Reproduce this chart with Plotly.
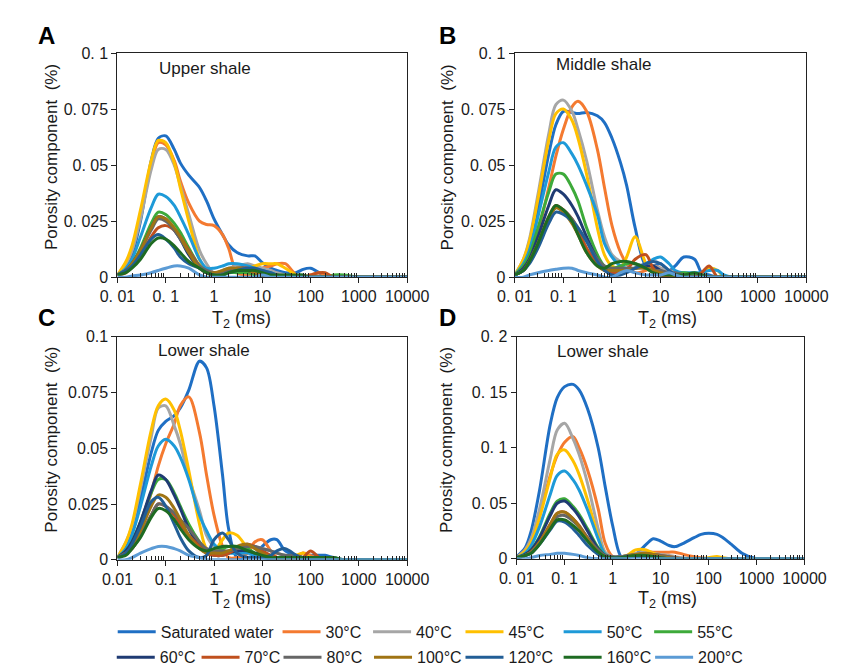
import plotly.graph_objects as go

# ---------------- data ----------------
T2 = [0.01, 0.015, 0.02, 0.03, 0.05, 0.07, 0.1, 0.15, 0.2, 0.3, 0.5, 0.7, 1, 1.5, 2, 3, 5, 7, 10, 15,
      20, 30, 50, 70, 100, 150, 200, 300, 500, 1000, 10000]

SERIES = ["Saturated water", "30°C", "40°C", "45°C", "50°C", "55°C",
          "60°C", "70°C", "80°C", "100°C", "120°C", "160°C", "200°C"]

X_TICKVALS = [0.01, 0.1, 1, 10, 100, 1000, 10000]
X_TICKTEXT_SPACED = ["0. 01", "0. 1", "1", "10", "100", "1000", "10000"]
X_TICKTEXT_PLAIN = ["0.01", "0.1", "1", "10", "100", "1000", "10000"]
Y_TICKVALS_01 = [0, 0.025, 0.05, 0.075, 0.1]
Y_TICKTEXT_01_SPACED = ["0", "0. 025", "0. 05", "0. 075", "0. 1"]
Y_TICKTEXT_01_PLAIN = ["0", "0.025", "0.05", "0.075", "0.1"]
Y_TICKVALS_02 = [0, 0.05, 0.1, 0.15, 0.2]
Y_TICKTEXT_02 = ["0", "0. 05", "0. 1", "0. 15", "0. 2"]

# Panel A - Upper shale
A_SAT = [0.001, 0.005, 0.010, 0.025, 0.052, 0.062, 0.063, 0.057, 0.051, 0.0455, 0.040, 0.034, 0.026, 0.019, 0.0145, 0.011, 0.0095, 0.0095, 0.0065, 0.004, 0.003, 0.002, 0.002, 0.0035, 0.004, 0.002, 0.0005, 0, 0, 0, 0]
A_30 = [0.001, 0.006, 0.012, 0.027, 0.050, 0.060, 0.059, 0.052, 0.043, 0.033, 0.025, 0.0235, 0.023, 0.019, 0.013, 0.002, 0.001, 0.002, 0.004, 0.005, 0.006, 0.006, 0.001, 0, 0.001, 0.002, 0.001, 0, 0, 0, 0]
A_40 = [0.001, 0.006, 0.012, 0.026, 0.048, 0.057, 0.057, 0.050, 0.041, 0.028, 0.012, 0.006, 0.002, 0.003, 0.004, 0.005, 0.006, 0.005, 0.004, 0.003, 0.002, 0.001, 0, 0, 0, 0, 0, 0, 0, 0, 0]
A_45 = [0.001, 0.007, 0.014, 0.030, 0.052, 0.061, 0.060, 0.051, 0.040, 0.025, 0.008, 0.002, 0.001, 0.002, 0.003, 0.004, 0.004, 0.005, 0.006, 0.006, 0.006, 0.004, 0.001, 0, 0, 0, 0, 0, 0, 0, 0]
A_50 = [0.001, 0.004, 0.008, 0.018, 0.031, 0.037, 0.036, 0.032, 0.027, 0.019, 0.008, 0.004, 0.004, 0.005, 0.006, 0.006, 0.005, 0.004, 0.003, 0.002, 0.001, 0, 0, 0, 0, 0, 0, 0, 0, 0, 0]
A_55 = [0.001, 0.003, 0.006, 0.013, 0.024, 0.029, 0.028, 0.024, 0.020, 0.013, 0.005, 0.002, 0.001, 0.001, 0.002, 0.002, 0.002, 0.001, 0, 0, 0, 0, 0, 0, 0, 0, 0, 0.001, 0.001, 0, 0]
A_60 = [0.001, 0.003, 0.006, 0.012, 0.022, 0.027, 0.026, 0.021, 0.017, 0.010, 0.004, 0.002, 0.002, 0.002, 0.003, 0.003, 0.003, 0.002, 0.001, 0, 0, 0, 0, 0, 0, 0, 0, 0, 0, 0, 0]
A_70 = [0.001, 0.002, 0.005, 0.010, 0.018, 0.022, 0.023, 0.021, 0.018, 0.012, 0.005, 0.002, 0.001, 0.002, 0.003, 0.004, 0.004, 0.003, 0.002, 0.001, 0.001, 0, 0, 0, 0.001, 0.002, 0.002, 0, 0, 0, 0]
A_80 = [0.001, 0.003, 0.006, 0.012, 0.021, 0.026, 0.025, 0.021, 0.017, 0.011, 0.005, 0.003, 0.002, 0.002, 0.003, 0.004, 0.004, 0.003, 0.002, 0.001, 0, 0, 0, 0, 0, 0, 0, 0, 0, 0, 0]
A_100 = [0.001, 0.003, 0.006, 0.012, 0.022, 0.027, 0.026, 0.022, 0.018, 0.011, 0.004, 0.002, 0.002, 0.003, 0.004, 0.004, 0.003, 0.002, 0.001, 0, 0, 0, 0, 0, 0, 0, 0, 0, 0, 0, 0]
A_120 = [0.001, 0.003, 0.005, 0.010, 0.017, 0.019, 0.017, 0.013, 0.009, 0.006, 0.004, 0.002, 0.001, 0.001, 0.002, 0.003, 0.004, 0.004, 0.003, 0.002, 0.001, 0, 0, 0, 0, 0, 0, 0, 0, 0, 0]
A_160 = [0.001, 0.002, 0.004, 0.008, 0.015, 0.0175, 0.017, 0.014, 0.011, 0.007, 0.004, 0.002, 0.001, 0.001, 0.002, 0.003, 0.003, 0.003, 0.002, 0.001, 0.001, 0.001, 0.001, 0.001, 0, 0, 0, 0, 0, 0, 0]
A_200 = [0, 0, 0.0005, 0.001, 0.002, 0.003, 0.004, 0.005, 0.005, 0.004, 0.001, 0, 0, 0, 0, 0, 0, 0, 0.001, 0, 0, 0, 0, 0, 0, 0, 0, 0, 0, 0, 0]

# Panel B - Middle shale
B_SAT = [0.001, 0.006, 0.013, 0.030, 0.055, 0.068, 0.074, 0.0735, 0.073, 0.0735, 0.072, 0.069, 0.062, 0.051, 0.041, 0.022, 0.005, 0.005, 0.006, 0.003, 0.005, 0.009, 0.008, 0.002, 0.001, 0, 0, 0, 0, 0, 0]
B_30 = [0.001, 0.004, 0.008, 0.020, 0.040, 0.054, 0.066, 0.076, 0.0785, 0.074, 0.057, 0.040, 0.023, 0.011, 0.006, 0.002, 0.003, 0.005, 0.004, 0.003, 0.002, 0.001, 0, 0, 0, 0, 0, 0, 0, 0, 0]
B_40 = [0.001, 0.008, 0.017, 0.037, 0.064, 0.077, 0.079, 0.074, 0.066, 0.052, 0.030, 0.018, 0.010, 0.007, 0.006, 0.006, 0.005, 0.005, 0.004, 0.003, 0.002, 0.001, 0, 0, 0, 0, 0, 0, 0, 0, 0]
B_45 = [0.001, 0.008, 0.016, 0.035, 0.061, 0.073, 0.075, 0.070, 0.062, 0.046, 0.022, 0.010, 0.005, 0.004, 0.009, 0.018, 0.006, 0.002, 0.001, 0, 0, 0, 0, 0.001, 0.004, 0.003, 0, 0, 0, 0, 0]
B_50 = [0.001, 0.006, 0.012, 0.027, 0.047, 0.058, 0.060, 0.055, 0.050, 0.041, 0.028, 0.015, 0.009, 0.005, 0.004, 0.004, 0.006, 0.008, 0.009, 0.006, 0.003, 0.002, 0.002, 0.002, 0.003, 0.003, 0.001, 0, 0, 0, 0]
B_55 = [0.001, 0.005, 0.010, 0.022, 0.038, 0.046, 0.046, 0.040, 0.034, 0.022, 0.010, 0.005, 0.004, 0.005, 0.006, 0.006, 0.004, 0.003, 0.002, 0.001, 0.001, 0.002, 0.001, 0, 0, 0, 0, 0, 0, 0, 0]
B_60 = [0.001, 0.004, 0.008, 0.018, 0.032, 0.039, 0.037, 0.032, 0.027, 0.018, 0.008, 0.004, 0.002, 0.002, 0.003, 0.004, 0.005, 0.005, 0.003, 0.001, 0, 0, 0, 0, 0, 0, 0, 0, 0, 0, 0]
B_70 = [0.001, 0.003, 0.007, 0.015, 0.027, 0.032, 0.030, 0.026, 0.021, 0.013, 0.006, 0.003, 0.002, 0.002, 0.003, 0.008, 0.010, 0.004, 0.001, 0, 0, 0, 0, 0.002, 0.005, 0, 0, 0, 0, 0, 0]
B_80 = [0.001, 0.003, 0.007, 0.015, 0.026, 0.031, 0.030, 0.026, 0.022, 0.016, 0.008, 0.005, 0.004, 0.004, 0.004, 0.004, 0.004, 0.003, 0.003, 0.002, 0.002, 0.001, 0, 0, 0, 0, 0, 0, 0, 0, 0]
B_100 = [0.001, 0.003, 0.007, 0.015, 0.026, 0.031, 0.029, 0.024, 0.019, 0.011, 0.005, 0.003, 0.003, 0.003, 0.003, 0.004, 0.004, 0.003, 0.002, 0.001, 0, 0, 0, 0, 0, 0, 0, 0, 0, 0, 0]
B_120 = [0.001, 0.003, 0.006, 0.013, 0.024, 0.029, 0.028, 0.025, 0.022, 0.016, 0.007, 0.003, 0.001, 0.001, 0.002, 0.004, 0.006, 0.007, 0.006, 0.003, 0.001, 0, 0, 0, 0, 0, 0, 0, 0, 0, 0]
B_160 = [0.001, 0.003, 0.007, 0.015, 0.027, 0.032, 0.030, 0.025, 0.019, 0.011, 0.005, 0.004, 0.006, 0.007, 0.007, 0.006, 0.004, 0.002, 0.001, 0.001, 0.001, 0.001, 0.002, 0.001, 0, 0, 0, 0, 0, 0, 0]
B_200 = [0, 0, 0.001, 0.002, 0.003, 0.0035, 0.004, 0.004, 0.003, 0.002, 0.001, 0, 0, 0.002, 0.003, 0.002, 0.001, 0.001, 0.001, 0.002, 0.001, 0, 0, 0, 0, 0, 0, 0, 0, 0, 0]

# Panel C - Lower shale
C_SAT = [0.001, 0.006, 0.012, 0.027, 0.048, 0.058, 0.062, 0.0646, 0.068, 0.076, 0.089, 0.086, 0.069, 0.038, 0.014, 0.001, 0.001, 0.002, 0.006, 0.009, 0.009, 0.004, 0.002, 0.001, 0.002, 0.002, 0.002, 0.001, 0, 0, 0]
C_30 = [0.001, 0.003, 0.007, 0.015, 0.030, 0.042, 0.052, 0.061, 0.069, 0.073, 0.057, 0.038, 0.020, 0.006, 0.001, 0.001, 0.003, 0.008, 0.009, 0.004, 0.001, 0, 0.001, 0.003, 0.002, 0, 0, 0, 0, 0, 0]
C_40 = [0.001, 0.008, 0.015, 0.032, 0.055, 0.068, 0.069, 0.060, 0.052, 0.037, 0.022, 0.011, 0.006, 0.004, 0.004, 0.005, 0.006, 0.006, 0.005, 0.004, 0.003, 0.002, 0.001, 0, 0, 0, 0, 0, 0, 0, 0]
C_45 = [0.001, 0.008, 0.016, 0.034, 0.058, 0.069, 0.072, 0.067, 0.058, 0.040, 0.016, 0.005, 0.004, 0.009, 0.012, 0.011, 0.005, 0.002, 0.001, 0, 0, 0, 0.002, 0.003, 0.001, 0, 0, 0, 0, 0, 0]
C_50 = [0.001, 0.005, 0.011, 0.024, 0.042, 0.051, 0.054, 0.051, 0.046, 0.036, 0.020, 0.013, 0.007, 0.004, 0.003, 0.003, 0.003, 0.002, 0.001, 0, 0, 0, 0, 0, 0, 0, 0, 0, 0, 0, 0]
C_55 = [0.001, 0.004, 0.008, 0.017, 0.030, 0.036, 0.036, 0.030, 0.024, 0.016, 0.008, 0.004, 0.003, 0.005, 0.006, 0.006, 0.005, 0.003, 0.002, 0.001, 0.001, 0, 0, 0, 0, 0, 0, 0, 0, 0, 0]
C_60 = [0.001, 0.004, 0.008, 0.017, 0.031, 0.038, 0.036, 0.029, 0.023, 0.014, 0.006, 0.003, 0.002, 0.002, 0.003, 0.004, 0.004, 0.003, 0.002, 0, 0, 0, 0, 0, 0, 0, 0, 0, 0, 0, 0]
C_70 = [0.001, 0.003, 0.005, 0.011, 0.020, 0.025, 0.024, 0.020, 0.016, 0.011, 0.006, 0.003, 0.002, 0.002, 0.003, 0.005, 0.007, 0.006, 0.004, 0.002, 0.001, 0, 0, 0.001, 0.004, 0.001, 0, 0, 0, 0, 0]
C_80 = [0.001, 0.003, 0.005, 0.011, 0.020, 0.025, 0.024, 0.021, 0.018, 0.014, 0.008, 0.005, 0.004, 0.004, 0.004, 0.005, 0.006, 0.006, 0.005, 0.004, 0.003, 0.002, 0.002, 0.001, 0, 0, 0, 0, 0, 0, 0]
C_100 = [0.001, 0.003, 0.006, 0.013, 0.024, 0.029, 0.028, 0.023, 0.018, 0.011, 0.005, 0.003, 0.003, 0.003, 0.004, 0.006, 0.007, 0.005, 0.003, 0.001, 0, 0, 0, 0, 0, 0, 0, 0, 0, 0, 0]
C_120 = [0.001, 0.003, 0.007, 0.015, 0.026, 0.028, 0.024, 0.016, 0.010, 0.004, 0.001, 0.002, 0.009, 0.012, 0.009, 0.003, 0.001, 0.001, 0.001, 0.002, 0.004, 0.005, 0.002, 0, 0, 0, 0, 0, 0, 0, 0]
C_160 = [0.001, 0.002, 0.005, 0.010, 0.019, 0.023, 0.022, 0.018, 0.014, 0.009, 0.005, 0.004, 0.005, 0.006, 0.006, 0.006, 0.004, 0.003, 0.002, 0.001, 0.001, 0.001, 0.001, 0.001, 0.001, 0.001, 0.001, 0.001, 0, 0, 0]
C_200 = [0, 0, 0.001, 0.003, 0.005, 0.006, 0.006, 0.005, 0.004, 0.002, 0.001, 0, 0, 0, 0, 0, 0, 0, 0, 0, 0, 0, 0, 0, 0, 0, 0, 0, 0, 0, 0]

# Panel D - Lower shale
D_SAT = [0.002, 0.010, 0.025, 0.062, 0.121, 0.145, 0.155, 0.157, 0.152, 0.135, 0.100, 0.065, 0.030, 0.002, 0.001, 0.004, 0.013, 0.018, 0.016, 0.012, 0.011, 0.014, 0.019, 0.022, 0.023, 0.022, 0.019, 0.013, 0.005, 0, 0]
D_30 = [0.001, 0.008, 0.018, 0.040, 0.075, 0.093, 0.105, 0.110, 0.100, 0.080, 0.045, 0.014, 0.002, 0.001, 0.002, 0.004, 0.006, 0.006, 0.006, 0.006, 0.006, 0.004, 0.002, 0.001, 0, 0, 0, 0, 0, 0, 0]
D_40 = [0.001, 0.008, 0.018, 0.045, 0.090, 0.116, 0.122, 0.108, 0.094, 0.068, 0.027, 0.006, 0.002, 0.002, 0.003, 0.005, 0.006, 0.005, 0.004, 0.003, 0.002, 0.001, 0, 0, 0, 0, 0, 0, 0, 0, 0]
D_45 = [0.001, 0.007, 0.015, 0.037, 0.073, 0.094, 0.098, 0.088, 0.076, 0.053, 0.020, 0.004, 0.001, 0.002, 0.003, 0.008, 0.008, 0.005, 0.003, 0.002, 0.001, 0, 0, 0, 0.001, 0.002, 0.001, 0, 0, 0, 0]
D_50 = [0.001, 0.005, 0.012, 0.029, 0.058, 0.075, 0.079, 0.071, 0.062, 0.044, 0.018, 0.004, 0.001, 0.002, 0.002, 0.003, 0.003, 0.002, 0.001, 0, 0, 0, 0, 0, 0, 0, 0, 0, 0, 0, 0]
D_55 = [0.001, 0.004, 0.008, 0.020, 0.041, 0.052, 0.054, 0.047, 0.040, 0.027, 0.010, 0.003, 0.001, 0.002, 0.002, 0.003, 0.003, 0.002, 0.001, 0, 0, 0, 0, 0, 0, 0, 0, 0, 0, 0, 0]
D_60 = [0.001, 0.004, 0.008, 0.019, 0.039, 0.050, 0.052, 0.045, 0.038, 0.025, 0.009, 0.003, 0.001, 0.002, 0.002, 0.003, 0.003, 0.002, 0.001, 0, 0, 0, 0, 0, 0, 0, 0, 0, 0, 0, 0]
D_70 = [0.001, 0.003, 0.006, 0.015, 0.031, 0.041, 0.042, 0.036, 0.030, 0.019, 0.007, 0.002, 0.001, 0.001, 0.002, 0.003, 0.004, 0.004, 0.003, 0.002, 0.001, 0, 0, 0, 0, 0, 0, 0, 0, 0, 0]
D_80 = [0.001, 0.003, 0.006, 0.014, 0.029, 0.038, 0.039, 0.034, 0.029, 0.019, 0.008, 0.003, 0.002, 0.002, 0.003, 0.004, 0.004, 0.004, 0.003, 0.002, 0.001, 0, 0, 0, 0, 0, 0, 0, 0, 0, 0]
D_100 = [0.001, 0.003, 0.006, 0.015, 0.031, 0.041, 0.042, 0.036, 0.029, 0.018, 0.006, 0.002, 0.001, 0.001, 0.002, 0.004, 0.005, 0.004, 0.002, 0.001, 0, 0, 0, 0, 0, 0, 0, 0, 0, 0, 0]
D_120 = [0.001, 0.003, 0.005, 0.013, 0.026, 0.034, 0.033, 0.027, 0.021, 0.012, 0.004, 0.001, 0.001, 0.001, 0.002, 0.002, 0.002, 0.002, 0.001, 0, 0, 0, 0, 0, 0, 0, 0, 0, 0, 0, 0]
D_160 = [0.001, 0.003, 0.005, 0.013, 0.027, 0.035, 0.035, 0.030, 0.025, 0.016, 0.006, 0.002, 0.001, 0.001, 0.002, 0.003, 0.003, 0.002, 0.001, 0, 0, 0, 0, 0, 0, 0, 0, 0, 0, 0, 0]
D_200 = [0, 0, 0.001, 0.003, 0.004, 0.005, 0.005, 0.004, 0.003, 0.001, 0, 0, 0, 0, 0, 0, 0, 0, 0, 0, 0, 0, 0, 0, 0, 0, 0, 0, 0, 0, 0]

PANEL_A = [A_SAT, A_30, A_40, A_45, A_50, A_55, A_60, A_70, A_80, A_100, A_120, A_160, A_200]
PANEL_B = [B_SAT, B_30, B_40, B_45, B_50, B_55, B_60, B_70, B_80, B_100, B_120, B_160, B_200]
PANEL_C = [C_SAT, C_30, C_40, C_45, C_50, C_55, C_60, C_70, C_80, C_100, C_120, C_160, C_200]
PANEL_D = [D_SAT, D_30, D_40, D_45, D_50, D_55, D_60, D_70, D_80, D_100, D_120, D_160, D_200]

# ---------------- style ----------------
COLORS = ["#1F6FC4", "#F47A30", "#A6A6A6", "#FFC000", "#1E9AD8", "#3DAA3A",
          "#1F3B73", "#C0501E", "#666666", "#A07414", "#225E96", "#1E6B22", "#5B9BD5"]

W, H = 848, 668
FONT = "Liberation Sans, Arial, sans-serif"
TXT = "#1a1a1a"


def px(x):
    return x / W


def py(y):
    return 1 - y / H


# plot areas in pixels: (left, right, top, bottom)
BOXES = {
    "A": (96, 400, 38, 268),
    "B": (513, 819, 38, 268),
    "C": (96, 400, 329, 558),
    "D": (515, 817, 329, 557),
}

fig = go.Figure()

panels = [("A", PANEL_A, "x", "y"), ("B", PANEL_B, "x2", "y2"),
          ("C", PANEL_C, "x3", "y3"), ("D", PANEL_D, "x4", "y4")]

for pname, data, xa, ya in panels:
    for i, (name, ys) in enumerate(zip(SERIES, data)):
        leg = "legend" if i == 0 else "legend%d" % (i + 1)
        fig.add_trace(go.Scatter(
            x=T2, y=ys, name=name, mode="lines",
            line=dict(color=COLORS[i], width=3, shape="spline", smoothing=0.9),
            xaxis=xa, yaxis=ya,
            showlegend=(pname == "A"), legend=leg,
        ))

minor_vals = [m * 10 ** e for e in range(-2, 4) for m in range(2, 10)]


def xaxis_cfg(box, ticktext):
    l, r, t, b = box
    return dict(
        type="log", range=[-2, 4], domain=[px(l), px(r)],
        tickmode="array", tickvals=X_TICKVALS, ticktext=ticktext,
        ticks="outside", ticklen=5, tickwidth=1, tickcolor="#222",
        showline=True, linecolor="#222", linewidth=1.2, mirror=True,
        showgrid=False, zeroline=False,
        tickfont=dict(family=FONT, size=16, color=TXT),
        minor=dict(ticks="inside", ticklen=4, tickwidth=1, tickcolor="#222",
                   tickmode="array", tickvals=minor_vals, showgrid=False),
    )


def yaxis_cfg(box, tickvals, ticktext, rng, anchor):
    l, r, t, b = box
    return dict(
        range=rng, domain=[py(b), py(t)], anchor=anchor,
        tickmode="array", tickvals=tickvals, ticktext=ticktext,
        ticks="outside", ticklen=5, tickwidth=1, tickcolor="#222",
        showline=True, linecolor="#222", linewidth=1.2, mirror=True,
        showgrid=False, zeroline=False,
        tickfont=dict(family=FONT, size=16, color=TXT),
    )


layout = dict(
    width=W, height=H, margin=dict(l=0, r=0, t=0, b=0),
    paper_bgcolor="white", plot_bgcolor="white",
    font=dict(family=FONT, color=TXT),
    xaxis=dict(xaxis_cfg(BOXES["A"], X_TICKTEXT_SPACED), anchor="y"),
    yaxis=yaxis_cfg(BOXES["A"], Y_TICKVALS_01, Y_TICKTEXT_01_SPACED, [0, 0.1], "x"),
    xaxis2=dict(xaxis_cfg(BOXES["B"], X_TICKTEXT_SPACED), anchor="y2"),
    yaxis2=yaxis_cfg(BOXES["B"], Y_TICKVALS_01, Y_TICKTEXT_01_SPACED, [0, 0.1], "x2"),
    xaxis3=dict(xaxis_cfg(BOXES["C"], X_TICKTEXT_PLAIN), anchor="y3"),
    yaxis3=yaxis_cfg(BOXES["C"], Y_TICKVALS_01, Y_TICKTEXT_01_PLAIN, [0, 0.1], "x3"),
    xaxis4=dict(xaxis_cfg(BOXES["D"], X_TICKTEXT_SPACED), anchor="y4"),
    yaxis4=yaxis_cfg(BOXES["D"], Y_TICKVALS_02, Y_TICKTEXT_02, [0, 0.2], "x4"),
)

# one legend per entry, placed on the two rows of the reference legend
LEG_POS = [(117, 632), (290, 632), (385, 632), (482, 632), (585, 632), (680, 632),
           (116, 658), (205, 658), (291, 658), (386, 658), (482, 658), (585, 658), (681, 658)]
for i, (lx, ly) in enumerate(LEG_POS):
    key = "legend" if i == 0 else "legend%d" % (i + 1)
    layout[key] = dict(
        x=px(lx - 26), y=py(ly), xanchor="left", yanchor="middle",
        orientation="h", bgcolor="rgba(0,0,0,0)", borderwidth=0,
        font=dict(family=FONT, size=16, color=TXT),
        itemwidth=38,
    )

fig.update_layout(**layout)

ann = []
# panel letters
for letter, (x, y) in {"A": (22, 20), "B": (442, 20), "C": (22, 309), "D": (442, 309)}.items():
    ann.append(dict(text="<b>%s</b>" % letter, x=px(x), y=py(y), xref="paper", yref="paper",
                    showarrow=False, font=dict(family=FONT, size=24, color="black"),
                    xanchor="center", yanchor="middle"))
# inner labels
for text, (x, y) in [("Upper shale", (188, 54)), ("Middle shale", (606, 50)),
                     ("Lower shale", (187, 343)), ("Lower shale", (606, 344))]:
    ann.append(dict(text=text, x=px(x), y=py(y), xref="paper", yref="paper",
                    showarrow=False, font=dict(family=FONT, size=17, color=TXT),
                    xanchor="center", yanchor="middle"))
# x titles
for x, y in [(226, 311), (673, 311), (226, 599), (673, 599)]:
    ann.append(dict(text="T<sub>2</sub> (ms)", x=px(x), y=py(y), xref="paper", yref="paper",
                    showarrow=False, font=dict(family=FONT, size=18, color=TXT),
                    xanchor="center", yanchor="middle"))
# y titles
for x, y in [(27, 145), (442, 145), (27, 435), (442, 435)]:
    ann.append(dict(text="Porosity component  (%)", x=px(x), y=py(y), xref="paper", yref="paper",
                    showarrow=False, textangle=-90, font=dict(family=FONT, size=17, color=TXT),
                    xanchor="center", yanchor="middle"))

fig.update_layout(annotations=ann)

fig.write_html("out.html")
